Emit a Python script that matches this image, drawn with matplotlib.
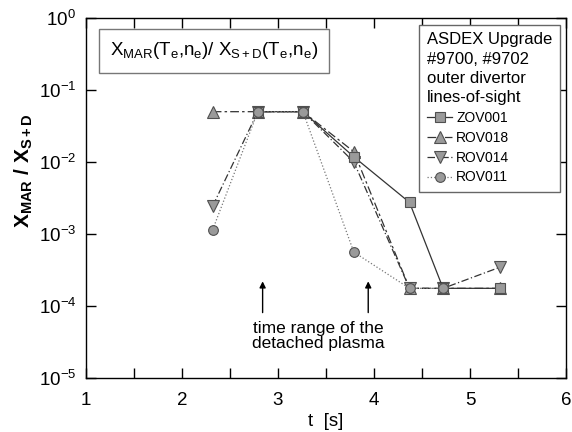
import numpy as np
import matplotlib
matplotlib.use("Agg")
import matplotlib.pyplot as plt
from matplotlib.ticker import MultipleLocator, NullLocator

plt.rcParams['font.family'] = ['Liberation Sans', 'DejaVu Sans']
plt.rcParams['mathtext.fontset'] = 'custom'
plt.rcParams['mathtext.rm'] = 'Liberation Sans'
plt.rcParams['mathtext.it'] = 'Liberation Sans:italic'
plt.rcParams['mathtext.bf'] = 'Liberation Sans:bold'

#%% data
t_zov001 = [2.79, 3.26, 3.79, 4.37, 4.72, 5.31]
y_zov001 = [0.05, 0.05, 0.0118, 0.00275, 1.76e-4, 1.76e-4]

t_rov018 = [2.32, 2.79, 3.26, 3.79, 4.37, 4.72, 5.31]
y_rov018 = [0.05, 0.05, 0.05, 0.0139, 1.76e-4, 1.76e-4, 1.76e-4]

t_rov014 = [2.32, 2.79, 3.26, 3.79, 4.37, 4.72, 5.31]
y_rov014 = [0.00245, 0.05, 0.05, 0.0100, 1.76e-4, 1.76e-4, 3.45e-4]

t_rov011 = [2.32, 2.79, 3.26, 3.79, 4.37, 4.72]
y_rov011 = [0.00115, 0.05, 0.05, 0.00056, 1.76e-4, 1.76e-4]

arrow_t = [2.84, 3.94]

#%%
fig = plt.figure(figsize=(5.72, 4.32), dpi=100)
ax = fig.add_axes([0.1503, 0.125, 0.8392, 0.8333])

mfc = '#9a9a9a'
mec = '#505050'

l18, = ax.plot(t_rov018, y_rov018, color='#333333', lw=0.9, dashes=(7, 2.5, 2, 2.5),
               marker='^', ms=8, mfc=mfc, mec=mec, mew=0.8, label='ROV018', zorder=3)
l14, = ax.plot(t_rov014, y_rov014, color='#333333', lw=0.9, dashes=(6, 2, 1, 2),
               marker='v', ms=8, mfc=mfc, mec=mec, mew=0.8, label='ROV014', zorder=4)
l01, = ax.plot(t_zov001, y_zov001, color='#333333', lw=0.9, ls='-',
               marker='s', ms=7, mfc=mfc, mec=mec, mew=0.8, label='ZOV001', zorder=5)
l11, = ax.plot(t_rov011, y_rov011, color='#777777', lw=0.9, ls=':',
               marker='o', ms=7, mfc=mfc, mec=mec, mew=0.8, label='ROV011', zorder=6)

ax.set_yscale('log')
ax.set_xlim(1, 6)
ax.set_ylim(1e-5, 1)
ax.xaxis.set_major_locator(MultipleLocator(1))
ax.xaxis.set_minor_locator(MultipleLocator(0.5))
ax.yaxis.set_minor_locator(NullLocator())
ax.tick_params(which='both', direction='in', length=7, width=1, top=True, right=True,
               labelsize=13.5)
ax.tick_params(axis='y', pad=7)
ax.tick_params(axis='x', pad=10)
for s in ax.spines.values():
    s.set_linewidth(1)

ax.set_xlabel('t  [s]', fontsize=13.5, labelpad=3)
ax.set_ylabel(r'$\mathbf{X_{MAR}\ /\ X_{S+D}}$', fontsize=15)
ax.yaxis.set_label_coords(-0.106, 0.575)

ax.text(0.267, 0.909, r'$\mathregular{X_{MAR}(T_e{,}n_e)/\ X_{S+D}(T_e{,}n_e)}$',
        transform=ax.transAxes, ha='center', va='center', fontsize=13.5,
        bbox=dict(boxstyle='square,pad=0.6', fc='white', ec='#777777', lw=1))

for at in arrow_t:
    ax.annotate('', xy=(at, 2.2e-4), xytext=(at, 8.1e-5),
                arrowprops=dict(arrowstyle='-|>', color='black', lw=1, mutation_scale=9,
                                shrinkA=0, shrinkB=0))
ax.text(3.42, 3.8e-5, 'time range of the\ndetached plasma', ha='center', va='center',
        fontsize=12.5, linespacing=1.0)

leg = ax.legend(handles=[l01, l18, l14, l11], loc='upper right',
                bbox_to_anchor=(0.9875, 0.981), fontsize=10,
                title='ASDEX Upgrade\n#9700, #9702\nouter divertor\nlines-of-sight',
                title_fontsize=12, alignment='left', fancybox=False, framealpha=1,
                edgecolor='#666666', handlelength=1.8, handletextpad=0.3,
                labelspacing=0.42, borderpad=0.55, borderaxespad=0)
leg.get_frame().set_linewidth(1)
leg.get_title().set_linespacing(1.35)

fig.savefig('out.png', dpi=100)
